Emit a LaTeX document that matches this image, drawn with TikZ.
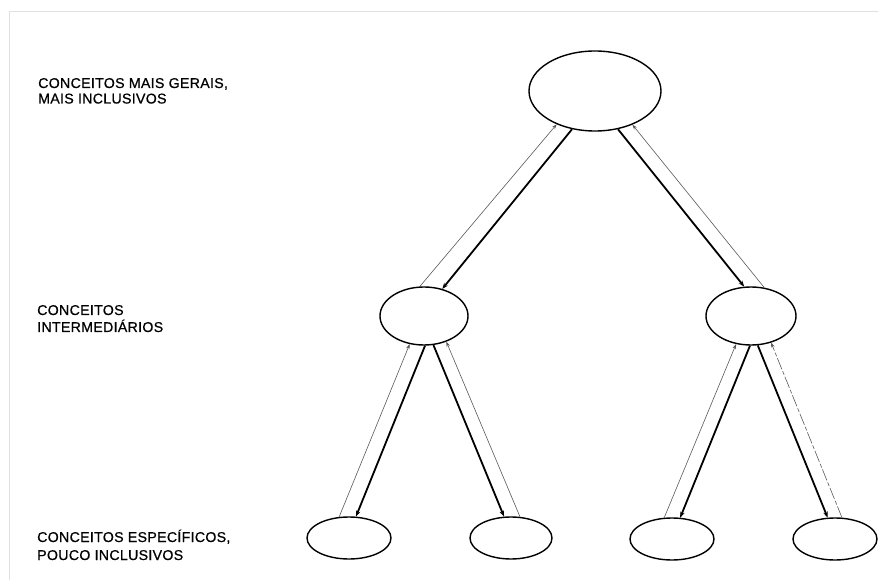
\documentclass[tikz,border=0pt]{standalone}
\usepackage{fontspec}
\setmainfont{Liberation Sans}[FakeBold=0.6,LetterSpace=2]
\usetikzlibrary{shapes.geometric,arrows.meta}
\begin{document}
\begin{tikzpicture}[x=1pt,y=-1pt,
  concept/.style={draw,ellipse,line width=1.4pt,inner sep=0pt},
  down/.style={line width=1.8pt,-{Stealth[length=6pt,width=4.5pt]}},
  up/.style={line width=0.6pt,draw=black!65,-{Stealth[length=5pt,width=3.5pt]}},
  lbl/.style={anchor=base west,inner sep=0pt,font=\fontsize{14.2}{16}\selectfont}]
\useasboundingbox (0,0) rectangle (879,580);
\fill[white] (0,0) rectangle (879,580);
% faint scan borders
\draw[black!12,line width=0.8pt] (9,580) -- (9,11) -- (878,11);
% concepts
\node[concept,minimum width=132pt,minimum height=80pt] (top) at (595,91) {};
\node[concept,minimum width=88pt,minimum height=58pt] (ml) at (424,316) {};
\node[concept,minimum width=90pt,minimum height=58pt] (mr) at (751,316) {};
\node[concept,minimum width=84pt,minimum height=42pt] (b1) at (349,538) {};
\node[concept,minimum width=82pt,minimum height=42pt] (b2) at (511,538) {};
\node[concept,minimum width=84pt,minimum height=42pt] (b3) at (672,539) {};
\node[concept,minimum width=84pt,minimum height=42pt] (b4) at (835,539) {};
% connectors
\draw[down] (top.-121) -- (ml.56);
\draw[up]   (ml.98) -- (top.-139);
\draw[down] (top.-59) -- (mr.103);
\draw[up]   (mr.65) -- (top.-42);
\draw[down] (ml.-88) -- (b1.72);
\draw[up]   (b1.115) -- (ml.-117);
\draw[down] (ml.-72) -- (b2.108);
\draw[up]   (b2.67) -- (ml.-49);
\draw[down] (mr.-92) -- (b3.69);
\draw[up]   (b3.110) -- (mr.-118);
\draw[down] (mr.-77) -- (b4.109);
\draw[up,dash pattern=on 12pt off 2pt on 4pt off 2pt] (b4.72) -- (mr.-53);
% labels
\node[lbl] (t1a) at (38,88) {CONCEITOS MAIS GERAIS,};
\node[lbl] (t1b) at (38,103.5) {MAIS INCLUSIVOS};
\node[lbl] (t2a) at (37,315) {CONCEITOS};
\node[lbl] (t2b) at (37,332) {INTERMEDIÁRIOS};
\node[lbl] (t3a) at (37,542) {CONCEITOS ESPECÍFICOS,};
\node[lbl] (t3b) at (37,560) {POUCO INCLUSIVOS};
\end{tikzpicture}
\end{document}
